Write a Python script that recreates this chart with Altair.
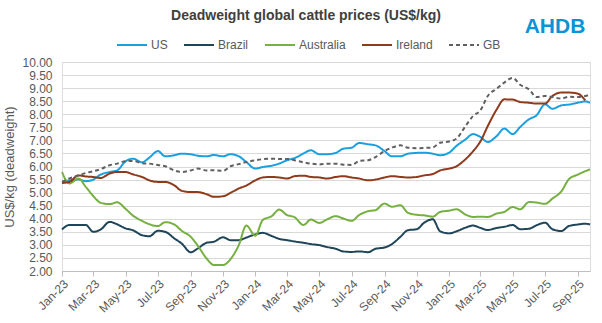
import altair as alt
import pandas as pd

# ---------------- data ----------------
dates = [
    "2023-01-01", "2023-01-15", "2023-02-01", "2023-02-15", "2023-03-01", "2023-03-15",
    "2023-04-01", "2023-04-15", "2023-05-01", "2023-05-15", "2023-06-01", "2023-06-15",
    "2023-07-01", "2023-07-15", "2023-08-01", "2023-08-15", "2023-09-01", "2023-09-15",
    "2023-10-01", "2023-10-15", "2023-11-01", "2023-11-15", "2023-12-01", "2023-12-15",
    "2024-01-01", "2024-01-15", "2024-02-01", "2024-02-15", "2024-03-01", "2024-03-15",
    "2024-04-01", "2024-04-15", "2024-05-01", "2024-05-15", "2024-06-01", "2024-06-15",
    "2024-07-01", "2024-07-15", "2024-08-01", "2024-08-15", "2024-09-01", "2024-09-15",
    "2024-10-01", "2024-10-15", "2024-11-01", "2024-11-15", "2024-12-01", "2024-12-15",
    "2025-01-01", "2025-01-15", "2025-02-01", "2025-02-15", "2025-03-01", "2025-03-15",
    "2025-04-01", "2025-04-15", "2025-05-01", "2025-05-15", "2025-06-01", "2025-06-15",
    "2025-07-01", "2025-07-15", "2025-08-01", "2025-08-15", "2025-09-01", "2025-09-15",
    "2025-09-24",
]

us = [
    5.41, 5.47, 5.50, 5.44, 5.50, 5.69, 5.79, 5.85, 6.20, 6.30, 6.16, 6.34,
    6.59, 6.39, 6.43, 6.49, 6.47, 6.41, 6.39, 6.44, 6.39, 6.47, 6.39, 6.17,
    5.92, 5.98, 6.03, 6.11, 6.24, 6.32, 6.50, 6.62, 6.47, 6.47, 6.52, 6.68,
    6.72, 6.90, 6.85, 6.81, 6.59, 6.39, 6.39, 6.49, 6.52, 6.53, 6.49, 6.43,
    6.53, 6.79, 7.04, 7.24, 7.13, 6.94, 7.17, 7.45, 7.24, 7.51, 7.81, 7.96,
    8.38, 8.21, 8.34, 8.37, 8.44, 8.49, 8.44,
]

brazil = [
    3.59, 3.76, 3.76, 3.76, 3.50, 3.59, 3.88, 3.79, 3.63, 3.56, 3.37, 3.33,
    3.54, 3.50, 3.25, 3.05, 2.72, 2.87, 3.08, 3.12, 3.29, 3.18, 3.18, 3.28,
    3.40, 3.46, 3.34, 3.23, 3.18, 3.13, 3.08, 3.03, 2.99, 2.92, 2.85, 2.75,
    2.73, 2.75, 2.72, 2.85, 2.90, 3.03, 3.31, 3.56, 3.60, 3.85, 3.98, 3.52,
    3.44, 3.52, 3.66, 3.74, 3.65, 3.57, 3.65, 3.69, 3.76, 3.60, 3.62, 3.75,
    3.85, 3.60, 3.53, 3.72, 3.78, 3.81, 3.78,
]

australia = [
    5.79, 5.35, 5.54, 5.22, 4.87, 4.61, 4.56, 4.63, 4.38, 4.12, 3.92, 3.79,
    3.72, 3.87, 3.78, 3.54, 3.31, 2.95, 2.48, 2.23, 2.23, 2.45, 3.00, 3.74,
    3.35, 3.95, 4.10, 4.35, 4.14, 4.06, 3.76, 3.97, 3.84, 3.97, 4.10, 4.01,
    3.92, 4.14, 4.29, 4.33, 4.58, 4.46, 4.52, 4.23, 4.15, 4.13, 4.08, 4.26,
    4.31, 4.36, 4.16, 4.07, 4.08, 4.07, 4.20, 4.26, 4.45, 4.36, 4.64, 4.62,
    4.57, 4.77, 5.05, 5.51, 5.69, 5.82, 5.89,
]

ireland = [
    5.37, 5.41, 5.66, 5.62, 5.60, 5.56, 5.73, 5.79, 5.79, 5.70, 5.60, 5.47,
    5.41, 5.41, 5.28, 5.07, 5.02, 5.02, 4.94, 4.84, 4.86, 4.99, 5.16, 5.27,
    5.47, 5.58, 5.60, 5.58, 5.54, 5.63, 5.65, 5.60, 5.58, 5.54, 5.60, 5.63,
    5.58, 5.54, 5.47, 5.50, 5.58, 5.63, 5.60, 5.58, 5.60, 5.66, 5.71, 5.85,
    5.92, 6.01, 6.28, 6.58, 6.96, 7.55, 8.19, 8.57, 8.56, 8.47, 8.44, 8.41,
    8.41, 8.70, 8.83, 8.83, 8.79, 8.53, None,
]

gb = [
    5.41, 5.54, 5.66, 5.75, 5.82, 5.90, 6.05, 6.11, 6.20, 6.21, 6.13, 6.11,
    6.06, 6.01, 5.85, 5.79, 5.85, 5.92, 5.85, 5.86, 5.83, 6.01, 6.09, 6.17,
    6.24, 6.28, 6.30, 6.29, 6.29, 6.24, 6.16, 6.11, 6.08, 6.11, 6.11, 6.07,
    6.06, 6.21, 6.24, 6.36, 6.59, 6.72, 6.81, 6.72, 6.70, 6.71, 6.73, 6.91,
    6.96, 7.07, 7.55, 7.93, 8.15, 8.70, 8.98, 9.21, 9.39, 9.13, 8.95, 8.66,
    8.70, 8.66, 8.60, 8.67, 8.66, 8.70, 8.75,
]

series_names = ["US", "Brazil", "Australia", "Ireland", "GB"]
series_values = [us, brazil, australia, ireland, gb]
series_colors = ["#1A9FE0", "#1F4559", "#76B041", "#8F3A1B", "#606060"]
series_dashes = [[1, 0], [1, 0], [1, 0], [1, 0], [4, 3]]

y_ticks = [2.0, 2.5, 3.0, 3.5, 4.0, 4.5, 5.0, 5.5, 6.0, 6.5, 7.0, 7.5, 8.0, 8.5, 9.0, 9.5, 10.0]
x_ticks = [
    "2023-01-01", "2023-03-01", "2023-05-01", "2023-07-01", "2023-09-01", "2023-11-01",
    "2024-01-01", "2024-03-01", "2024-05-01", "2024-07-01", "2024-09-01", "2024-11-01",
    "2025-01-01", "2025-03-01", "2025-05-01", "2025-07-01", "2025-09-01",
]
x_domain = ["2023-01-01", "2025-09-24"]

title_text = "Deadweight global cattle prices (US$/kg)"
y_title = "US$/kg (deadweight)"
logo_text = ["AHDB"]

# ---------------- build table ----------------
rows = []
for name, vals in zip(series_names, series_values):
    for d, v in zip(dates, vals):
        if v is not None:
            rows.append({"date": d, "series": name, "price": v})
df = pd.DataFrame(rows)


def ms(s):
    return int(pd.Timestamp(s, tz="UTC").value // 10**6)


tick_vals = [ms(s) for s in x_ticks]
dom = [ms(s) for s in x_domain]

FONT = "Liberation Sans"
GREY = "#595959"

lines = alt.Chart(df).mark_line(strokeWidth=2, interpolate="monotone").encode(
    x=alt.X(
        "date:T",
        scale=alt.Scale(domain=dom, nice=False),
        axis=alt.Axis(
            title=None, values=tick_vals,
            labelExpr="utcFormat(datum.value, '%b-%y')",
            labelAngle=-45, labelFontSize=12, labelColor=GREY, labelFont=FONT,
            grid=False, domainColor="#BFBFBF", tickColor="#BFBFBF", tickSize=5,
            labelPadding=2, labelOverlap=False,
        ),
    ),
    y=alt.Y(
        "price:Q",
        scale=alt.Scale(domain=[2, 10], nice=False, zero=False),
        axis=alt.Axis(
            title=y_title, values=y_ticks, format=".2f",
            labelFontSize=12, labelColor=GREY, labelFont=FONT, labelOverlap=False,
            titleFont=FONT, titleFontSize=13, titleColor=GREY, titleFontWeight="normal",
            titlePadding=5, ticks=False, domain=False, labelPadding=10,
            gridColor="#D9D9D9", gridWidth=1,
        ),
    ),
    color=alt.Color(
        "series:N",
        scale=alt.Scale(domain=series_names, range=series_colors),
        legend=alt.Legend(
            title=None, orient="none", direction="horizontal",
            legendX=54, legendY=-33, symbolType="stroke", symbolSize=900,
            symbolStrokeWidth=2, labelFontSize=12, labelColor=GREY, labelFont=FONT,
            labelOffset=3, columnPadding=12, padding=0,
        ),
    ),
    strokeDash=alt.StrokeDash(
        "series:N",
        scale=alt.Scale(domain=series_names, range=series_dashes),
        legend=None,
    ),
    order=alt.Order("series:N"),
)

logo = alt.Chart(pd.DataFrame({"t": logo_text})).mark_text(
    font=FONT, fontSize=21, fontWeight="bold", color="#0A93D5", align="center", baseline="middle",
).encode(text="t:N", x=alt.value(493), y=alt.value(-35))

chart = alt.layer(lines, logo).properties(
    width=528,
    height=209,
    title=alt.TitleParams(
        text=title_text, font=FONT, fontSize=14, fontWeight="bold", color="#404040",
        anchor="middle", dx=-20, dy=15, offset=8,
    ),
    autosize=alt.AutoSizeParams(type="none"),
    padding={"left": 62, "top": 62, "right": 12, "bottom": 52},
).configure_view(stroke=None).configure(background="white")

chart.save("out.html", embed_options={"renderer": "svg", "actions": False})
